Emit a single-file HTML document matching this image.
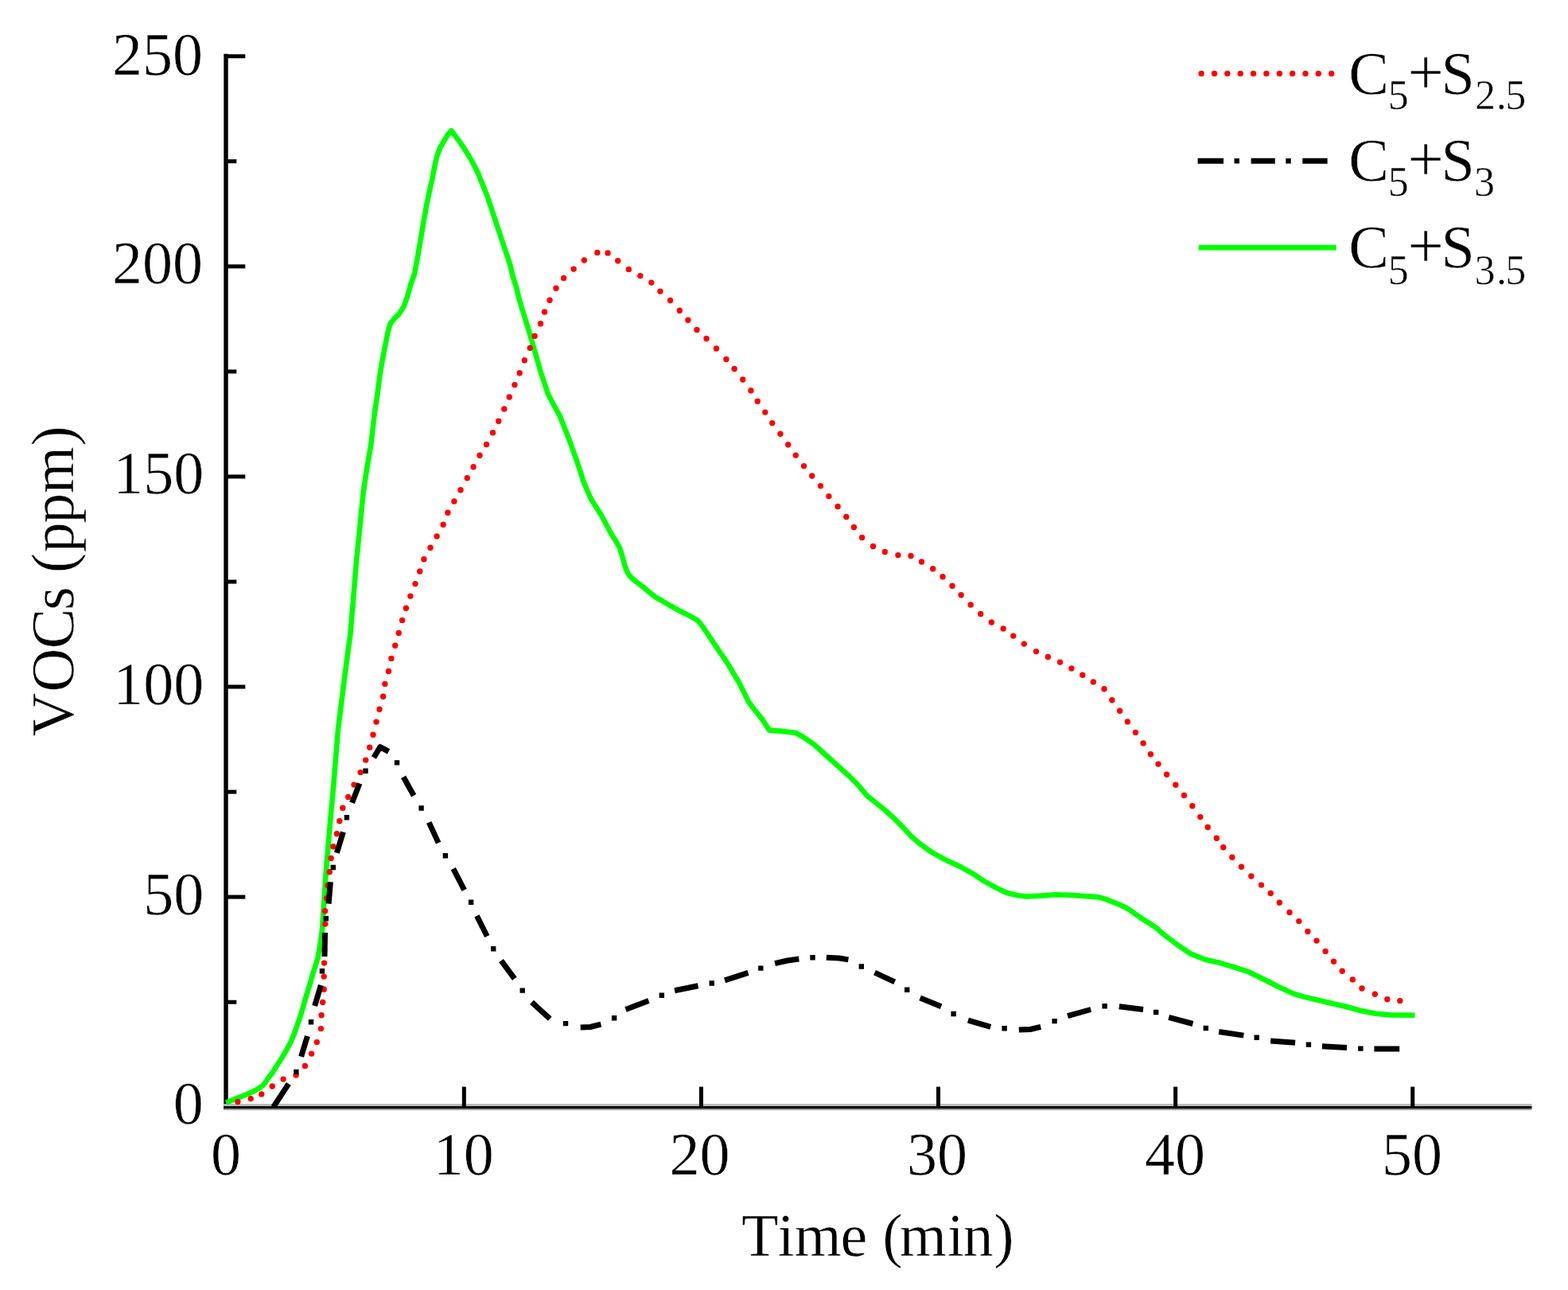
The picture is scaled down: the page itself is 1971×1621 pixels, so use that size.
<!DOCTYPE html>
<html><head><meta charset="utf-8"><title>VOCs chart</title>
<style>html,body{margin:0;padding:0;background:#fff;}svg{display:block;}</style>
</head><body>
<svg width="1971" height="1621" viewBox="0 0 1971 1621">
<rect width="1971" height="1621" fill="#fff"/>
<rect x="281.3" y="67.7" width="5.4" height="1327" fill="#000"/>
<rect x="281.3" y="1387" width="1644.2" height="3" fill="#bbb"/>
<rect x="281.3" y="1390" width="1644.2" height="3" fill="#000"/>
<rect x="281.3" y="1393" width="1644.2" height="2" fill="#999"/>
<rect x="284" y="1256.7" width="13.3" height="5" fill="#000"/>
<rect x="284" y="1124.6" width="24.3" height="5" fill="#000"/>
<rect x="284" y="992.6" width="13.3" height="5" fill="#000"/>
<rect x="284" y="860.5" width="24.3" height="5" fill="#000"/>
<rect x="284" y="728.5" width="13.3" height="5" fill="#000"/>
<rect x="284" y="596.4" width="24.3" height="5" fill="#000"/>
<rect x="284" y="464.4" width="13.3" height="5" fill="#000"/>
<rect x="284" y="332.3" width="24.3" height="5" fill="#000"/>
<rect x="284" y="200.2" width="13.3" height="5" fill="#000"/>
<rect x="284" y="68.2" width="24.3" height="5" fill="#000"/>
<rect x="580.8" y="1365.6" width="5" height="25" fill="#000"/>
<rect x="878.9" y="1365.6" width="5" height="25" fill="#000"/>
<rect x="1177" y="1365.6" width="5" height="25" fill="#000"/>
<rect x="1475.1" y="1365.6" width="5" height="25" fill="#000"/>
<rect x="1773.2" y="1365.6" width="5" height="25" fill="#000"/>
<polyline points="284.1,1385.6 292.2,1382.4 300.3,1379.1 308.4,1375.9 316.5,1372.2 324.6,1368.1 330.7,1363.7 334.8,1358.4 338.8,1352.7 342.9,1347.2 347.8,1339.5 353.6,1330.4 359.7,1320.2 365.1,1310.1 369.2,1300.6 372.6,1291.1 376,1281.6 378.7,1273.4 381.4,1263.9 384.1,1254.4 386.8,1245.6 389.3,1237.5 393.6,1222.4 399.6,1203.6 403.4,1180.8 405.1,1166.6 406.2,1150 409.7,1096.8 416.2,1020 418.3,998.4 421.7,956.4 425.1,915.7 428.5,888.5 431.9,861.4 435.3,834.3 440.4,796.8 444.3,750.5 448.1,704.2 452.8,658 456.6,619.4 461.2,588.6 466.3,559 470.7,520.5 474.4,495.8 477.5,471.1 480.6,452.6 484.3,434.1 487.4,418 490.5,406.9 495.4,400.7 501.6,394.6 507.8,384.7 512.2,372.3 515.6,359.9 521.3,342.9 525.5,320.2 529.1,298.9 532.6,277.7 536.2,257.8 539.7,240.8 543.3,225.2 546.8,206.7 549.6,195.4 553.2,185.5 558.2,177 562.4,169.9 567.3,164.2 577,177 585.5,189.7 594,203.9 601.1,218.1 606.8,232.3 612.5,246.5 618.2,263.5 623.8,280.5 629.5,297.5 635.2,314.5 640.9,331.6 645.1,348.6 649.4,362.8 652.9,377 656,387.1 664.4,414.3 672.3,441.4 680,468.5 689.1,495.7 696.3,509.3 703.8,522.8 714.6,550 724.3,577.1 728.8,590.2 732.8,603.2 738,616.1 743.2,627.4 748.4,636 755.3,646.4 762.2,659.3 768.2,670.5 774.3,680 779.4,689.5 782.5,700 785.5,711 788.5,719 791.8,724 799.2,730.7 808.1,737.3 817.7,745.5 826.6,752.1 830,753.6 842.3,761 854.7,767.8 867,773.9 876.9,779.5 883,786.9 890.4,798 897.9,809.1 905.3,820.2 913.9,832.5 921.3,844.9 928.7,857.2 934.9,869.5 941,881.9 948.4,891.7 958.3,904.1 966.9,917.6 984.2,918.9 1001.1,921.1 1012.2,927.8 1023.3,935.5 1034.4,945.5 1045.5,955.5 1056.6,965.5 1067.7,975.5 1078.8,986.6 1089.9,999.9 1101,1008.8 1112.1,1017.7 1123.2,1027.7 1134.3,1038.8 1145.5,1051 1156.2,1060.3 1172.5,1071.7 1188.7,1080.6 1204.9,1087.9 1221.2,1096.8 1237.4,1107.4 1253.6,1116.3 1265.8,1122 1278,1124.9 1290,1126.5 1308.3,1125.6 1326.5,1124.2 1344.8,1124.7 1363.1,1126 1381.3,1127.4 1390.5,1130.1 1399.6,1133.8 1408.7,1137.4 1417.9,1142 1427,1148.4 1436.1,1154.8 1445.3,1160.3 1454.4,1166.7 1460,1172 1478.3,1186 1496.5,1198.4 1514.8,1205.7 1533.1,1209.8 1551.3,1215.3 1569.6,1221.2 1587.9,1230.3 1606.1,1239.5 1624.4,1248.1 1638.3,1252.4 1656.5,1256.7 1674.8,1261 1693.1,1265.2 1711.3,1270.2 1729.6,1273.8 1747.9,1275.4 1778.4,1275.7" fill="none" stroke="#00ff00" stroke-width="6.6" stroke-linejoin="round" stroke-linecap="butt"/>
<path d="M298.9 1384.5h0M315.2 1380.6h0M328.7 1374.9h0M342.2 1365h0M356.1 1356.1h0M372.1 1351.1h0M383.4 1339.4h0M391.6 1324.1h0M398.3 1309.6h0M403.4 1292.6h0M404.1 1275.7h0M405.7 1259.5h0M407.2 1243.3h0M407.2 1227.1h0M407.5 1210.1h0M407.8 1193.5h0M408.2 1177h0M408.8 1161.1h0M408.5 1144.7h0M410.8 1128.8h0M412 1112.8h0M414.2 1095.7h0M416.1 1078.5h0M418.8 1063.7h0M423.4 1047.7h0M426.8 1031.7h0M430.8 1015.3h0M437.7 1001.5h0M445 986.1h0M453.1 970.6h0M459.7 955.1h0M464.7 939.2h0M469 923.2h0M473 907.1h0M477 891.3h0M481.6 875.3h0M483.9 859.4h0M488.4 843.4h0M491.9 827.4h0M496.7 811.3h0M501.2 795.4h0M505.6 779.4h0M510.4 764.3h0M515.9 749.1h0M522 733.6h0M527.7 718h0M532.9 702.8h0M541 688.3h0M549.1 673.9h0M557.1 659.3h0M562.9 644.2h0M570.9 629.9h0M579 615.7h0M587.3 600.8h0M595.1 586.7h0M603 572.2h0M611.5 558.5h0M619.5 543.8h0M626.7 529.3h0M633.8 513.9h0M640.2 498.9h0M646.9 483.6h0M653.1 468.8h0M659.3 452.7h0M666.2 437.2h0M672.1 422.3h0M679.5 406.7h0M684.5 392h0M691 377.2h0M699 362.3h0M708.6 349.4h0M721.1 338.1h0M734.3 327h0M750.8 317.4h0M764 317.9h0M776.7 327.7h0M790.3 338.4h0M804.8 346.6h0M818.8 355.1h0M829.9 366.1h0M842.6 377.5h0M854.3 390.2h0M864.9 402.3h0M876 414.5h0M888 425.5h0M900.4 438h0M912.9 451.5h0M923.1 463.5h0M933.7 477h0M943.9 490.7h0M952.2 504.2h0M961.8 518.1h0M970.7 531.6h0M980.9 545.3h0M990.7 558.8h0M1000.3 572.1h0M1010.5 585.6h0M1020.7 598h0M1031.4 610.6h0M1041.9 623.6h0M1053.1 636.5h0M1063.8 649.5h0M1073.4 662.5h0M1083.6 675.4h0M1097.5 686.5h0M1112.3 693.5h0M1128.9 697.6h0M1145 698.5h0M1158.5 706h0M1172.7 714.8h0M1185 724.8h0M1197 736.3h0M1208.1 747.7h0M1220.2 760h0M1232.6 771.4h0M1246.3 782h0M1261.1 789.9h0M1273.7 799.1h0M1287.3 809.1h0M1302.5 818.6h0M1317.3 825.5h0M1332.5 832.1h0M1346.9 839.9h0M1360.8 848.2h0M1374.3 856.9h0M1388 865.8h0M1397.8 879.7h0M1407.6 893.2h0M1417.3 906.9h0M1427.4 920.4h0M1437.1 933.9h0M1446.4 947.7h0M1456 960.1h0M1466.6 973.3h0M1477.8 986.2h0M1488.4 999.5h0M1498.8 1012.8h0M1508.8 1026.6h0M1518.2 1039.5h0M1529.3 1053.3h0M1537.7 1064.8h0M1548.8 1077.2h0M1560.4 1089.2h0M1572.8 1101h0M1585.5 1112.1h0M1597.2 1122.5h0M1608.3 1134.3h0M1621 1146.5h0M1632.8 1157.6h0M1643.9 1170.5h0M1655 1182.1h0M1666.1 1195.4h0M1676.5 1208.3h0M1687.2 1220.3h0M1700.3 1230.9h0M1712 1242h0M1728.3 1249.3h0M1743.8 1255.8h0M1759.8 1257.6h0" stroke="#ff0000" stroke-width="7.4" stroke-linecap="round" fill="none"/>
<path d="M343.7 1391L362.8 1361.8M378.6 1327.8L386.4 1302M395.6 1264.1L403.4 1237.9M408 1202L408.5 1172M413.1 1135.6L415.4 1108.2M423.4 1071.7L431.4 1045.4M442.5 1008.8L452 984.4M469.8 952L477.9 938.6L488.5 944.3M507.1 976.3L520.1 999.8M539.2 1033.4L551.1 1059.1M569.8 1091.7L583.6 1118.3M599.4 1150.9L612.3 1176.5M630 1207.1L646.8 1229.8M668.5 1259.4L691.2 1280.2M729.7 1291L742 1290.5L755.4 1287.1M786.5 1268.5L815.4 1257.6M848.1 1244.7L877.5 1238.7M911.1 1231.8L940.4 1222.3M974.1 1210.7L990 1207L1004.3 1205M1038.8 1203.3L1055 1204L1066.4 1205.9M1099.5 1222.1L1124.7 1233.8M1156.6 1253.9L1183.1 1264.8M1216.9 1282.2L1245.2 1290.4M1280.8 1294.1L1295 1293.5L1308.2 1290.4M1342 1276.7L1371.2 1268.5M1406.8 1264.8L1437 1268.5M1469.2 1278.3L1499.4 1286.5M1532.2 1296.5L1563.3 1301.1M1597.1 1307.9L1628.1 1310.2M1661.9 1314.8L1693 1316.6M1727.4 1317.9L1759.2 1317.9" stroke="#000" stroke-width="7" stroke-linecap="butt" stroke-linejoin="round" fill="none"/>
<path d="M369.2 1346.9h6.4M387.8 1284.2h6.4M401.7 1220.2h6.4M406.6 1154.2h6.4M415.6 1090h6.4M432.7 1027.2h6.4M456.3 968.7h6.4M495.8 958.4h6.4M526.4 1015.5h6.4M556.7 1075.3h6.4M588.9 1133.7h6.4M617 1192.3h6.4M653.5 1244.6h6.4M707.8 1286.1h6.4M768.9 1279.2h6.4M828.6 1250.7h6.4M891.5 1235.5h6.4M953.1 1216.6h6.4M1018.3 1203.3h6.4M1079.6 1214.5h6.4M1137 1243.8h6.4M1195.4 1274h6.4M1259.4 1292.2h6.4M1322.4 1283.1h6.4M1385.4 1264.3h6.4M1449.9 1272h6.4M1512.6 1292h6.4M1576.5 1303.8h6.4M1641.7 1312.6h6.4M1707.1 1317.6h6.4" stroke="#000" stroke-width="6.4" fill="none"/>
<g font-family="Liberation Serif, Times New Roman, serif" font-size="76" fill="#000" stroke="#fff" stroke-width="0.5">
<text x="255.8" y="1412.3" text-anchor="end">0</text>
<text x="256.3" y="1149.4" text-anchor="end">50</text>
<text x="256.2" y="884.7" text-anchor="end">100</text>
<text x="256.2" y="620.4" text-anchor="end">150</text>
<text x="254.9" y="356.2" text-anchor="end">200</text>
<text x="254.9" y="93.8" text-anchor="end">250</text>
<text x="283.9" y="1476.3" text-anchor="middle">0</text>
<text x="582.8" y="1476.3" text-anchor="middle">10</text>
<text x="879.4" y="1476.3" text-anchor="middle">20</text>
<text x="1177.9" y="1476.3" text-anchor="middle">30</text>
<text x="1476.9" y="1476.3" text-anchor="middle">40</text>
<text x="1774.9" y="1476.3" text-anchor="middle">50</text>
<text x="931.9 977.5 998.6 1056.5 1090.2 1109.3 1130.7 1190.8 1210.4 1249.2" y="1577.6">Time (min)</text>
<text transform="translate(92.3 731) rotate(-90)" x="-194.6 -138.6 -84.3 -35.8 -6.2 11.1 36.8 73.2 110.8 170.6">VOCs (ppm)</text>
</g>
<path d="M1510.1 92.4h0M1526.5 92.4h0M1542.8 92.4h0M1559.2 92.4h0M1575.5 92.4h0M1591.9 92.4h0M1608.3 92.4h0M1624.6 92.4h0M1641 92.4h0M1657.3 92.4h0M1673.7 92.4h0" stroke="#ff0000" stroke-width="7.4" stroke-linecap="round" fill="none"/>
<path d="M1505.6 202.2H1538M1572.6 202.2H1602.7M1637.3 202.2H1668.6" stroke="#000" stroke-width="7" fill="none"/>
<path d="M1551.5 202.2h6.4M1616.3 202.2h6.4" stroke="#000" stroke-width="6.4" fill="none"/>
<path d="M1506.7 311.1H1679.7" stroke="#00ff00" stroke-width="6.6" fill="none"/>
<g font-family="Liberation Serif, Times New Roman, serif" font-size="76" fill="#000" stroke="#fff" stroke-width="0.5">
<text><tspan x="1695.2" y="118.4" font-size="76">C</tspan><tspan x="1744.8" y="137.4" font-size="52">5</tspan><tspan x="1769.3" y="118.4" font-size="81">+</tspan><tspan x="1811.6" y="118.4" font-size="76">S</tspan><tspan x="1854.1" y="137.4" font-size="52">2</tspan><tspan x="1880.8" y="137.4" font-size="52">.</tspan><tspan x="1892.3" y="137.4" font-size="52">5</tspan></text>
<text><tspan x="1695.2" y="226.8" font-size="76">C</tspan><tspan x="1744.8" y="245.8" font-size="52">5</tspan><tspan x="1769.3" y="226.8" font-size="81">+</tspan><tspan x="1811.6" y="226.8" font-size="76">S</tspan><tspan x="1853.1" y="245.8" font-size="52">3</tspan></text>
<text><tspan x="1695.2" y="336" font-size="76">C</tspan><tspan x="1744.8" y="357" font-size="52">5</tspan><tspan x="1769.3" y="336" font-size="81">+</tspan><tspan x="1811.6" y="336" font-size="76">S</tspan><tspan x="1853.4" y="357" font-size="52">3</tspan><tspan x="1881.1" y="357" font-size="52">.</tspan><tspan x="1892.3" y="357" font-size="52">5</tspan></text>
</g>
</svg>
</body></html>
